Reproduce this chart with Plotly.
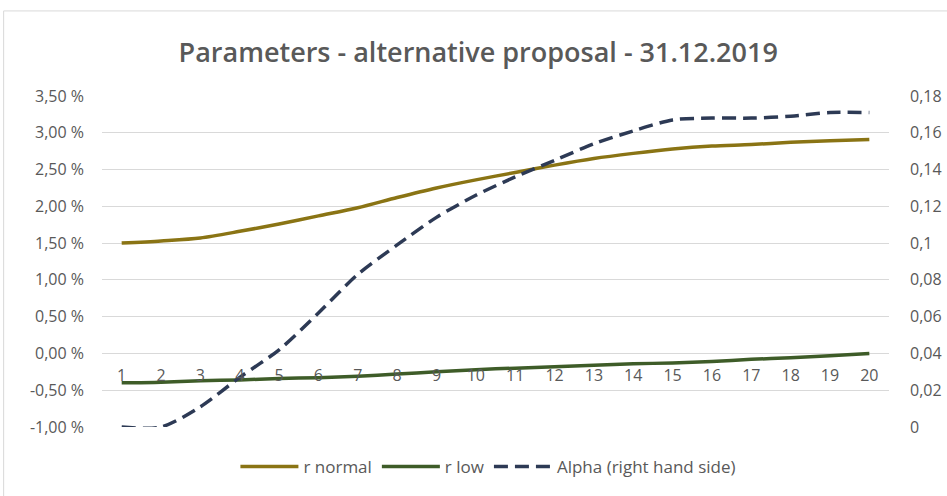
import plotly.graph_objects as go

# Years 1..20
categories = list(range(1, 21))

# Interest rate parameters (percent)
r_normal = [1.50, 1.53, 1.57, 1.66, 1.76, 1.87, 1.98, 2.12, 2.25, 2.36,
            2.46, 2.56, 2.65, 2.72, 2.78, 2.82, 2.84, 2.87, 2.89, 2.91]
r_low = [-0.40, -0.39, -0.37, -0.36, -0.34, -0.33, -0.31, -0.28, -0.25, -0.22,
         -0.20, -0.18, -0.16, -0.14, -0.13, -0.11, -0.08, -0.06, -0.03, 0.00]

# Alpha parameter (right hand side)
alpha = [0.000, 0.000, 0.011, 0.027, 0.042, 0.062, 0.083, 0.099, 0.114, 0.126,
         0.136, 0.145, 0.154, 0.161, 0.167, 0.168, 0.168, 0.169, 0.171, 0.171]

left_ticks = [-1.0, -0.5, 0.0, 0.5, 1.0, 1.5, 2.0, 2.5, 3.0, 3.5]
left_labels = ["-1,00 %", "-0,50 %", "0,00 %", "0,50 %", "1,00 %",
               "1,50 %", "2,00 %", "2,50 %", "3,00 %", "3,50 %"]
right_ticks = [0, 0.02, 0.04, 0.06, 0.08, 0.10, 0.12, 0.14, 0.16, 0.18]
right_labels = ["0", "0,02", "0,04", "0,06", "0,08", "0,1",
                "0,12", "0,14", "0,16", "0,18"]

text_color = "#595959"
grid_color = "#d9d9d9"
font_family = "Open Sans, sans-serif"

fig = go.Figure()
fig.add_trace(go.Scatter(
    x=categories, y=r_normal, name="r normal", mode="lines",
    line=dict(color="#8a7414", width=3.5, shape="spline", smoothing=0.8),
))
fig.add_trace(go.Scatter(
    x=categories, y=r_low, name="r low", mode="lines",
    line=dict(color="#3e5c28", width=3.5, shape="spline", smoothing=0.8),
))
fig.add_trace(go.Scatter(
    x=categories, y=alpha, name="Alpha (right hand side)", mode="lines",
    yaxis="y2",
    line=dict(color="#2d3a55", width=3.5, dash="14px,7px", shape="spline", smoothing=0.8),
))

y_lo, y_hi = -1.0, 3.5
zero_pos = (0 - y_lo) / (y_hi - y_lo)

fig.update_layout(
    width=947, height=496,
    margin=dict(l=102, r=58, t=96, b=69, autoexpand=False),
    paper_bgcolor="white", plot_bgcolor="white",
    font=dict(family=font_family, size=16, color=text_color),
    title=dict(
        text="Parameters - alternative proposal - 31.12.2019",
        x=0.505, xanchor="center", y=0.895, yanchor="middle",
        font=dict(family=font_family, size=27, color=text_color, weight=600),
    ),
    xaxis=dict(
        range=[0.5, 20.5], tickmode="array", tickvals=categories,
        ticktext=[str(c) for c in categories],
        showgrid=False, zeroline=False, showline=False,
        anchor="free", position=zero_pos, ticks="",
        ticklabelstandoff=11,
        tickfont=dict(size=16, color=text_color),
    ),
    yaxis=dict(
        range=[y_lo, y_hi], tickmode="array", tickvals=left_ticks,
        ticktext=left_labels, showgrid=True, gridcolor=grid_color,
        gridwidth=1, zeroline=False, showline=False, ticks="",
        ticklabelstandoff=17,
        tickfont=dict(size=16, color=text_color),
    ),
    yaxis2=dict(
        range=[0, 0.18], overlaying="y", side="right",
        tickmode="array", tickvals=right_ticks, ticktext=right_labels,
        showgrid=False, zeroline=False, showline=False, ticks="",
        ticklabelstandoff=20,
        tickfont=dict(size=16, color=text_color),
    ),
    legend=dict(
        orientation="h", x=0.491, xanchor="center",
        yref="container", y=1 - 467 / 496, yanchor="middle",
        itemwidth=58,
        font=dict(size=17, color=text_color), bgcolor="rgba(0,0,0,0)",
    ),
    showlegend=True,
    shapes=[dict(
        type="rect", xref="paper", yref="paper",
        x0=-0.125, x1=1.2, y0=-0.4, y1=1.257,
        line=dict(color="#d9d9d9", width=1), fillcolor="rgba(0,0,0,0)",
        layer="below",
    )],
)

fig.write_html("out.html")
